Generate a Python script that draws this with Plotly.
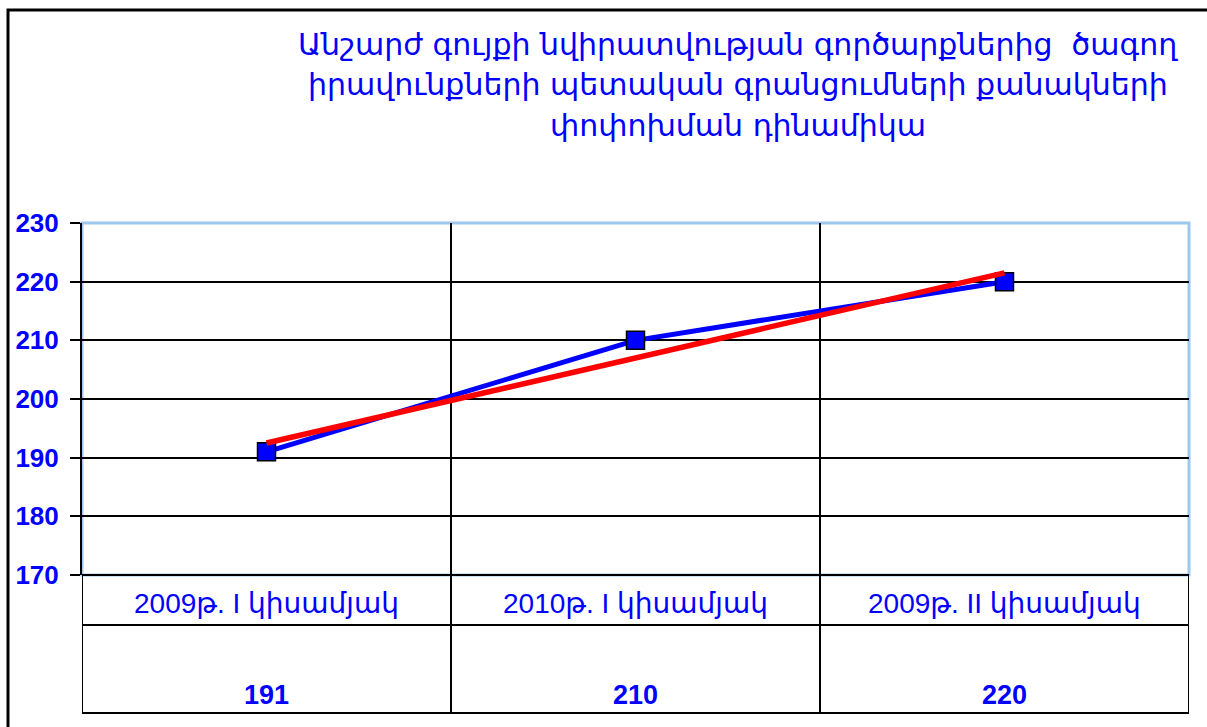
import plotly.graph_objects as go

categories = ["2009թ. I կիսամյակ", "2010թ. I կիսամյակ", "2009թ. II կիսամյակ"]
values = [191, 210, 220]
trend_x = [categories[0], categories[-1]]
trend_values = [192.5, 221.5]
y_ticks = [170, 180, 190, 200, 210, 220, 230]
title_lines = [
    "Անշարժ գույքի նվիրատվության գործարքներից  ծագող",
    "իրավունքների պետական գրանցումների քանակների",
    "փոփոխման դինամիկա",
]

BLUE = "#0000ff"
LIGHT = "#9cc8f0"
W, H = 1207, 727
L, R, T, B = 82, 18, 223, 152
ph = H - T - B
pw = W - L - R

def py(pix):
    return (H - B - pix) / ph

def px(pix):
    return (pix - L) / pw

fig = go.Figure()
fig.add_trace(go.Scatter(
    x=categories, y=values, mode="lines+markers",
    line=dict(color=BLUE, width=5),
    marker=dict(symbol="square", size=18, color=BLUE, line=dict(color="black", width=1.5)),
    showlegend=False, hoverinfo="skip"))
fig.add_trace(go.Scatter(
    x=trend_x, y=trend_values, mode="lines",
    line=dict(color="#ff0000", width=5.5),
    showlegend=False, hoverinfo="skip"))

shapes = []
shapes.append(dict(type="rect", xref="paper", yref="paper", x0=0, x1=1, y0=0, y1=1,
                   line=dict(color=LIGHT, width=3), layer="below"))
for i in range(len(categories) + 1):
    shapes.append(dict(type="line", xref="x", yref="paper", x0=i - 0.5, x1=i - 0.5,
                       y0=py(713), y1=0, line=dict(color="black", width=2)))
for yy in [575, 625, 713]:
    shapes.append(dict(type="line", xref="x", yref="paper", x0=-0.5, x1=len(categories) - 0.5,
                       y0=py(yy), y1=py(yy), line=dict(color="black", width=2)))
shapes.append(dict(type="rect", xref="paper", yref="paper",
                   x0=px(8), x1=1.2, y0=-0.7, y1=py(10),
                   line=dict(color="black", width=3)))

annotations = []
for c, v in zip(categories, values):
    annotations.append(dict(x=c, xref="x", y=py(603), yref="paper", text=c, showarrow=False,
                            xanchor="center", yanchor="middle",
                            font=dict(family="Liberation Sans, DejaVu Sans", size=28, color=BLUE)))
    annotations.append(dict(x=c, xref="x", y=py(695), yref="paper", text=f"<b>{v}</b>", showarrow=False,
                            xanchor="center", yanchor="middle",
                            font=dict(family="Liberation Sans, DejaVu Sans", size=27, color=BLUE)))
for line, yc in zip(title_lines, [44, 84, 125]):
    annotations.append(dict(x=px(738), xref="paper", y=py(yc), yref="paper",
                            text=line, showarrow=False, align="center",
                            xanchor="center", yanchor="middle",
                            font=dict(family="DejaVu Sans", size=30, color=BLUE)))

fig.update_layout(
    width=W, height=H, margin=dict(l=L, r=R, t=T, b=B),
    paper_bgcolor="white", plot_bgcolor="white",
    shapes=shapes, annotations=annotations,
    xaxis=dict(type="category", range=[-0.5, 2.5], showgrid=True, tickson="boundaries",
               gridcolor="black", gridwidth=2, showticklabels=False, ticks="", zeroline=False,
               showline=False, fixedrange=True),
    yaxis=dict(range=[170, 230], tickvals=y_ticks, showgrid=True, gridcolor="black", gridwidth=2,
               ticks="outside", ticklen=10, tickcolor="black", tickwidth=2,
               showline=True, linecolor="black", linewidth=2, zeroline=False,
               tickfont=dict(family="Liberation Sans, Arial", size=26, color=BLUE, weight="bold"),
               ticklabelstandoff=6, fixedrange=True),
)
fig.write_html("out.html", config={"displayModeBar": False},
               post_script="document.body.style.margin='0';")
